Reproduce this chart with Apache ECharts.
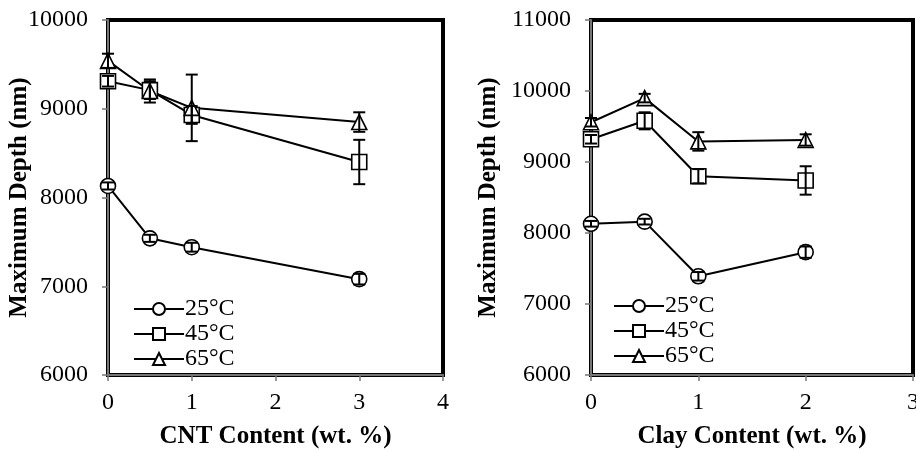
<!DOCTYPE html>
<html>
<head>
<meta charset="utf-8">
<script src="https://cdn.jsdelivr.net/npm/echarts@6/dist/echarts.min.js"></script>
<style>
    html, body { margin: 0; padding: 0; background: #fff; }
    #chart { width: 916px; height: 450px; }
</style>
</head>
<body>
<div id="chart"></div>
<script>
// 数据
var seriesNames = ['25°C', '45°C', '65°C'];

// 左图：CNT
var cntX = [0, 0.5, 1, 3];
var cnt25 = [8130, 7540, 7440, 7080];
var cnt25Err = [40, 40, 50, 60];
var cnt45 = [9310, 9210, 8930, 8400];
var cnt45Err = [60, 100, 100, 250];
var cnt65 = [9540, 9200, 9010, 8850];
var cnt65Err = [80, 130, 375, 110];

// 右图：Clay
var clayX = [0, 0.5, 1, 2];
var clay25 = [8130, 8160, 7390, 7730];
var clay25Err = [40, 40, 60, 80];
var clay45 = [9320, 9580, 8800, 8740];
var clay45Err = [60, 120, 100, 200];
var clay65 = [9560, 9900, 9290, 9310];
var clay65Err = [60, 60, 130, 80];

var symbols = ['circle', 'rect', 'triangle'];
var font = '"Liberation Serif", "Times New Roman", serif';

function pairs(xs, ys) {
    return xs.map(function (x, i) { return [x, ys[i]]; });
}
function errPairs(xs, ys, es) {
    return xs.map(function (x, i) { return [x, ys[i] - es[i], ys[i] + es[i]]; });
}

// 误差棒
function renderErr(params, api) {
    var lo = api.coord([api.value(0), api.value(1)]);
    var hi = api.coord([api.value(0), api.value(2)]);
    var w = 6;
    var style = { stroke: '#000', lineWidth: 2 };
    return {
        type: 'group',
        children: [
            { type: 'line', shape: { x1: lo[0], y1: lo[1], x2: hi[0], y2: hi[1] }, style: style },
            { type: 'line', shape: { x1: lo[0] - w, y1: lo[1], x2: lo[0] + w, y2: lo[1] }, style: style },
            { type: 'line', shape: { x1: hi[0] - w, y1: hi[1], x2: hi[0] + w, y2: hi[1] }, style: style }
        ]
    };
}

function lineSeries(name, idx, data, symbol) {
    return {
        name: name,
        type: 'line',
        xAxisIndex: idx,
        yAxisIndex: idx,
        data: data,
        symbol: symbol,
        symbolSize: 15,
        showAllSymbol: true,
        lineStyle: { color: '#000', width: 2 },
        itemStyle: { color: '#fff', borderColor: '#000', borderWidth: 1.6 },
        emphasis: { disabled: true },
        z: 3
    };
}

function errSeries(idx, data) {
    return {
        type: 'custom',
        xAxisIndex: idx,
        yAxisIndex: idx,
        data: data,
        renderItem: renderErr,
        silent: true,
        z: 4
    };
}

function xAxis(idx, max, name) {
    return {
        gridIndex: idx,
        type: 'value',
        min: 0,
        max: max,
        interval: 1,
        name: name,
        nameLocation: 'middle',
        nameGap: 49,
        nameMoveOverlap: false,
        nameTextStyle: { fontFamily: font, fontSize: 25, fontWeight: 'bold', color: '#000' },
        axisLine: { show: true, lineStyle: { color: '#777', width: 2 } },
        axisTick: { show: true, inside: false, length: 6, lineStyle: { color: '#777', width: 1.5 } },
        axisLabel: { fontFamily: font, fontSize: 24, color: '#000', margin: 16 },
        splitLine: { show: false }
    };
}

function yAxis(idx, min, max, gap) {
    return {
        gridIndex: idx,
        type: 'value',
        min: min,
        max: max,
        interval: 1000,
        name: 'Maximum Depth (nm)',
        nameLocation: 'middle',
        nameRotate: 90,
        nameGap: gap,
        nameMoveOverlap: false,
        nameTextStyle: { fontFamily: font, fontSize: 25, fontWeight: 'bold', color: '#000' },
        axisLine: { show: true, lineStyle: { color: '#777', width: 2 } },
        axisTick: { show: true, inside: false, length: 6, lineStyle: { color: '#777', width: 1.5 } },
        axisLabel: {
            fontFamily: font, fontSize: 24, color: '#000', margin: 20,
            formatter: function (v) { return String(v); }
        },
        splitLine: { show: false }
    };
}

function legend(left, top) {
    return {
        left: left,
        top: top,
        orient: 'vertical',
        itemWidth: 50,
        itemHeight: 15,
        itemGap: 1,
        data: seriesNames,
        textStyle: { fontFamily: font, fontSize: 24, color: '#000', padding: [0, 0, 0, -4] },
        selectedMode: false
    };
}

var chart = echarts.init(document.getElementById('chart'), null, { renderer: 'canvas' });

var option = {
    backgroundColor: '#fff',
    animation: false,
    grid: [
        { left: 108, right: 473, top: 20, bottom: 75, show: true, borderColor: '#000', borderWidth: 4, backgroundColor: 'transparent', outerBoundsMode: 'none', containLabel: false },
        { left: 591, right: 3, top: 20, bottom: 75, show: true, borderColor: '#000', borderWidth: 4, backgroundColor: 'transparent', outerBoundsMode: 'none', containLabel: false }
    ],
    xAxis: [
        xAxis(0, 4, 'CNT Content (wt. %)'),
        xAxis(1, 3, 'Clay Content (wt. %)')
    ],
    yAxis: [
        yAxis(0, 6000, 10000, 76),
        yAxis(1, 6000, 11000, 90)
    ],
    legend: [
        legend(128, 292),
        legend(608, 289)
    ],
    series: [
        lineSeries(seriesNames[0], 0, pairs(cntX, cnt25), symbols[0]),
        lineSeries(seriesNames[1], 0, pairs(cntX, cnt45), symbols[1]),
        lineSeries(seriesNames[2], 0, pairs(cntX, cnt65), symbols[2]),
        errSeries(0, errPairs(cntX, cnt25, cnt25Err)),
        errSeries(0, errPairs(cntX, cnt45, cnt45Err)),
        errSeries(0, errPairs(cntX, cnt65, cnt65Err)),
        lineSeries(seriesNames[0], 1, pairs(clayX, clay25), symbols[0]),
        lineSeries(seriesNames[1], 1, pairs(clayX, clay45), symbols[1]),
        lineSeries(seriesNames[2], 1, pairs(clayX, clay65), symbols[2]),
        errSeries(1, errPairs(clayX, clay25, clay25Err)),
        errSeries(1, errPairs(clayX, clay45, clay45Err)),
        errSeries(1, errPairs(clayX, clay65, clay65Err))
    ]
};

chart.setOption(option);
</script>
</body>
</html>
